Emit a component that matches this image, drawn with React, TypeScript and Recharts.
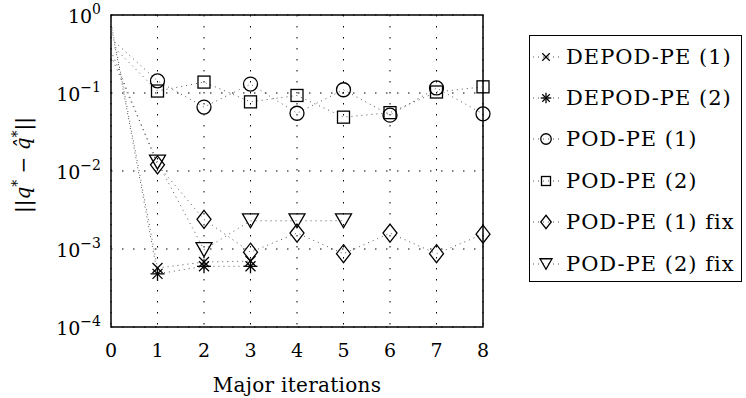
import { LineChart, Line, XAxis, YAxis, CartesianGrid, ReferenceArea, Legend } from 'recharts';

// ||q* - q̂*|| per major iteration; missing tail entries mean the run stopped earlier
const iterations = [0, 1, 2, 3, 4, 5, 6, 7, 8];
const depod1 = [0.8, 5.7e-4, 6.8e-4, 7.0e-4];
const depod2 = [0.75, 4.8e-4, 6.0e-4, 6.0e-4];
const pod1 = [0.5, 0.143, 0.066, 0.13, 0.055, 0.11, 0.052, 0.116, 0.054];
const pod2 = [0.42, 0.106, 0.138, 0.077, 0.093, 0.049, 0.056, 0.103, 0.12];
const pod1Fix = [0.35, 0.012, 2.4e-3, 9.1e-4, 1.6e-3, 8.7e-4, 1.6e-3, 8.7e-4, 1.55e-3];
const pod2Fix = [0.3, 0.013, 9.8e-4, 2.3e-3, 2.3e-3, 2.3e-3];

const xTicks = [0, 1, 2, 3, 4, 5, 6, 7, 8];
const yTicks = [1, 0.1, 0.01, 0.001, 0.0001];

type MarkerKind = 'cross' | 'star' | 'circle' | 'square' | 'diamond' | 'triangle';

const series: { key: string; name: string; values: number[]; marker: MarkerKind }[] = [
  { key: 'depod1', name: 'DEPOD-PE (1)', values: depod1, marker: 'cross' },
  { key: 'depod2', name: 'DEPOD-PE (2)', values: depod2, marker: 'star' },
  { key: 'pod1', name: 'POD-PE (1)', values: pod1, marker: 'circle' },
  { key: 'pod2', name: 'POD-PE (2)', values: pod2, marker: 'square' },
  { key: 'pod1Fix', name: 'POD-PE (1) fix', values: pod1Fix, marker: 'diamond' },
  { key: 'pod2Fix', name: 'POD-PE (2) fix', values: pod2Fix, marker: 'triangle' },
];

const rows = iterations.map((it, i) => {
  const row: Record<string, number | null> = { it };
  series.forEach((s) => {
    row[s.key] = s.values[i] ?? null;
  });
  return row;
});

const FONT = "'DejaVu Serif', serif";
const INK = '#000';

function Marker({ kind, cx, cy, s = 1 }: { kind: MarkerKind; cx: number; cy: number; s?: number }) {
  const sw = 1.3;
  const common = { fill: 'none', stroke: INK, strokeWidth: sw };
  switch (kind) {
    case 'cross': {
      const r = 5 * s;
      return (
        <g {...common}>
          <line x1={cx - r} y1={cy - r} x2={cx + r} y2={cy + r} />
          <line x1={cx - r} y1={cy + r} x2={cx + r} y2={cy - r} />
        </g>
      );
    }
    case 'star': {
      const r = 7 * s;
      const d = 5 * s;
      return (
        <g {...common}>
          <line x1={cx - r} y1={cy} x2={cx + r} y2={cy} />
          <line x1={cx} y1={cy - r} x2={cx} y2={cy + r} />
          <line x1={cx - d} y1={cy - d} x2={cx + d} y2={cy + d} />
          <line x1={cx - d} y1={cy + d} x2={cx + d} y2={cy - d} />
        </g>
      );
    }
    case 'circle':
      return <circle cx={cx} cy={cy} r={7 * s} {...common} />;
    case 'square': {
      const h = 6 * s;
      return <rect x={cx - h} y={cy - h} width={2 * h} height={2 * h} {...common} />;
    }
    case 'diamond': {
      const w = 7 * s;
      const h = 9 * s;
      return <polygon points={`${cx},${cy - h} ${cx + w},${cy} ${cx},${cy + h} ${cx - w},${cy}`} {...common} />;
    }
    case 'triangle': {
      const w = 8 * s;
      const h = 7 * s;
      return <polygon points={`${cx - w},${cy - h} ${cx + w},${cy - h} ${cx},${cy + h}`} {...common} />;
    }
  }
  return null;
}

// markers on every point except the starting value at iteration 0
const markerDot = (kind: MarkerKind) => (props: any) => {
  const { cx, cy, index, value } = props;
  if (index === 0 || value == null || cx == null || cy == null) return <g key={`d-${kind}-${index}`} />;
  return (
    <g key={`d-${kind}-${index}`}>
      <Marker kind={kind} cx={cx} cy={cy} />
    </g>
  );
};

const YTick = (props: any) => {
  const { x, y, payload } = props;
  const exp = Math.round(Math.log10(payload.value));
  const label = exp < 0 ? `\u2212${-exp}` : `${exp}`;
  return (
    <text x={x} y={y + 8} textAnchor="end" fontFamily={FONT} fontSize={19} fill={INK}>
      10
      <tspan dy={-9} fontSize={14}>
        {label}
      </tspan>
    </text>
  );
};

const XTick = (props: any) => {
  const { x, y, payload } = props;
  return (
    <text x={x} y={y + 30} textAnchor="middle" fontFamily={FONT} fontSize={19} fill={INK}>
      {payload.value}
    </text>
  );
};

const XLabel = (props: any) => {
  const { viewBox } = props;
  const cx = viewBox.x + viewBox.width / 2;
  return (
    <text x={cx} y={392} textAnchor="middle" fontFamily={FONT} fontSize={20} letterSpacing={0.3} fill={INK}>
      Major iterations
    </text>
  );
};

const YLabel = (props: any) => {
  const { viewBox } = props;
  const cx = 30;
  const cy = viewBox.y + viewBox.height / 2 - 6;
  return (
    <text
      x={cx}
      y={cy}
      transform={`rotate(-90 ${cx} ${cy})`}
      textAnchor="middle"
      fontFamily={FONT}
      fontSize={20}
      fill={INK}
    >
      ||<tspan fontStyle="italic">q</tspan>
      <tspan dy={-8} fontSize={14}>*</tspan>
      <tspan dy={8}> − </tspan>
      <tspan fontStyle="italic">q̂</tspan>
      <tspan dy={-8} fontSize={14}>*</tspan>
      <tspan dy={8}>||</tspan>
    </text>
  );
};

function LegendBox() {
  return (
    <div
      style={{
        width: 213,
        height: 247,
        boxSizing: 'border-box',
        border: `1.5px solid ${INK}`,
        background: '#fff',
      }}
    >
      {series.map((s) => (
        <div key={s.key} style={{ height: 41.4, display: 'flex', alignItems: 'center' }}>
          <svg width={36} height={24} style={{ flex: 'none' }}>
            <line x1={3} y1={12} x2={30} y2={12} stroke="#555" strokeWidth={1} strokeDasharray="1 4" />
            <Marker kind={s.marker} cx={16} cy={12} s={0.75} />
          </svg>
          <span style={{ fontFamily: FONT, fontSize: 21, letterSpacing: 1, color: INK, whiteSpace: 'nowrap' }}>
            {s.name}
          </span>
        </div>
      ))}
    </div>
  );
}

export default function App() {
  return (
    <div style={{ position: 'absolute', left: 0, top: 0, background: '#fff' }}>
      <LineChart width={746} height={398} data={rows} margin={{ top: 15, right: 263, bottom: 11, left: 51 }}>
        <CartesianGrid stroke={INK} strokeWidth={1} strokeDasharray="1.5 9.5" />
        <XAxis
          dataKey="it"
          type="number"
          domain={[0, 8]}
          ticks={xTicks}
          height={60}
          tickLine={false}
          axisLine={false}
          tickSize={0}
          tickMargin={0}
          tick={<XTick />}
          label={<XLabel />}
        />
        <YAxis
          scale="log"
          domain={[1e-4, 1]}
          ticks={yTicks}
          allowDataOverflow
          width={60}
          tickLine={false}
          axisLine={false}
          tickSize={0}
          tickMargin={10}
          tick={<YTick />}
          label={<YLabel />}
        />
        {series.map((s) => (
          <Line
            key={s.key}
            dataKey={s.key}
            name={s.name}
            stroke="#555"
            strokeWidth={1}
            strokeDasharray="1 4"
            dot={markerDot(s.marker)}
            activeDot={false}
            isAnimationActive={false}
          />
        ))}
        <ReferenceArea x1={0} x2={8} y1={1e-4} y2={1} fill="none" stroke={INK} strokeWidth={1.5} />
        <Legend
          layout="vertical"
          align="center"
          verticalAlign="middle"
          wrapperStyle={{ left: 529, top: 35, width: 213, height: 247 }}
          content={() => <LegendBox />}
        />
      </LineChart>
    </div>
  );
}
